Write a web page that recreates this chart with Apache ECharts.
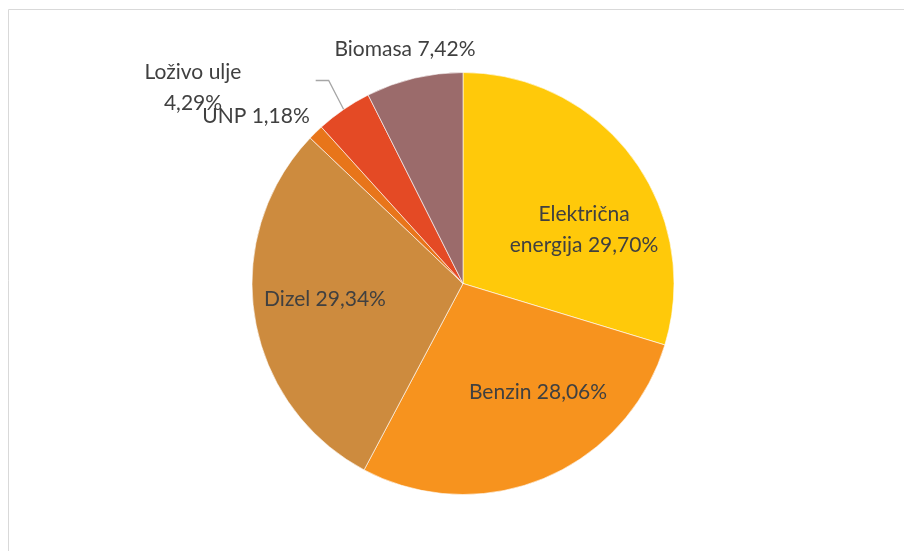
<!DOCTYPE html>
<html lang="hr">
<head>
    <meta charset="UTF-8">
    <title>Potrošnja energije</title>
    <style>
        html, body { margin: 0; padding: 0; background: #fff; }
    </style>
</head>
<body>
<div id="main" style="width: 904px;height:551px;"></div>
<script src="https://cdn.jsdelivr.net/npm/echarts@6/dist/echarts.min.js"></script>
<script type="text/javascript">
    // kategorije i udjeli (%)
    var categories = ['Električna energija', 'Benzin', 'Dizel', 'UNP', 'Loživo ulje', 'Biomasa'];
    var shares = [29.70, 28.06, 29.34, 1.18, 4.29, 7.42];
    var colors = ['#FFC90A', '#F7931E', '#CD8B3E', '#E8751A', '#E44A25', '#9B6B6B'];

    // gdje se tekst oznake lomi u dva reda
    var breakAfter = {'Električna energija': 'Električna', 'Loživo ulje': 'Loživo ulje'};

    // položaj oznaka (centar teksta)
    var labelPos = [
        [584, 230],
        [538, 392],
        [325, 299],
        [256, 116],
        [193, 88],
        [405, 49]
    ];

    var pieData = [];
    for (var i = 0; i < categories.length; i++) {
        pieData.push({
            name: categories[i],
            value: shares[i],
            itemStyle: {color: colors[i]},
            labelLine: {show: categories[i] === 'Loživo ulje'}
        });
    }

    var myChart = echarts.init(document.getElementById('main'));
    myChart.setOption({
        animation: false,
        graphic: [{
            type: 'polyline',
            shape: {points: [[8.5, 560], [8.5, 9.5], [910, 9.5]]},
            style: {stroke: '#D9D9D9', fill: null, lineWidth: 1}
        }],
        series: [{
            type: 'pie',
            center: [463, 283.5],
            radius: 211,
            startAngle: 90,
            clockwise: true,
            avoidLabelOverlap: false,
            itemStyle: {borderColor: '#fff', borderWidth: 0.6},
            label: {
                show: true,
                position: 'outside',
                color: '#404040',
                fontFamily: 'Lato',
                fontSize: 21,
                lineHeight: 31,
                formatter: function (p) {
                    var pct = p.value.toFixed(2).replace('.', ',') + '%';
                    var b = breakAfter[p.name];
                    if (b) {
                        return b + '\n' + (p.name.slice(b.length).trim() + ' ' + pct).trim();
                    }
                    return p.name + ' ' + pct;
                }
            },
            labelLine: {
                lineStyle: {color: '#A6A6A6', width: 1.3}
            },
            labelLayout: function (params) {
                var pos = labelPos[params.dataIndex];
                var out = {x: pos[0], y: pos[1], align: 'center', verticalAlign: 'middle'};
                if (params.labelLinePoints && categories[params.dataIndex] === 'Loživo ulje') {
                    var s = params.labelLinePoints[0];
                    out.labelLinePoints = [s, [s[0] - 15, s[1] - 29], [s[0] - 28, s[1] - 29]];
                }
                return out;
            },
            data: pieData
        }]
    });
</script>
</body>
</html>
